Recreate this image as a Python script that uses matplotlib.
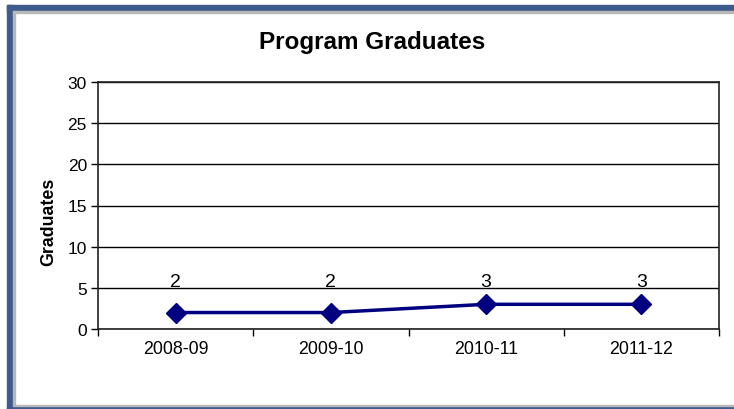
import matplotlib.pyplot as plt
from matplotlib.patches import Rectangle

plt.rcParams['font.family'] = ['Liberation Sans', 'DejaVu Sans']

years = ['2008-09', '2009-10', '2010-11', '2011-12']
graduates = [2, 2, 3, 3]
y_ticks = [0, 5, 10, 15, 20, 25, 30]

W, H = 734, 410
fig = plt.figure(figsize=(W / 100, H / 100), dpi=100)
fig.patch.set_facecolor('white')

# blue frame (left, top, bottom) with a thin grey inner edge
blue = '#3F5A8C'
grey = '#B8B8B8'
def px_rect(x0, y0, w, h, color):
    fig.patches.append(Rectangle((x0 / W, 1 - (y0 + h) / H), w / W, h / H,
                                 transform=fig.transFigure, color=color, zorder=0))
px_rect(7, 6, W - 7, 6, blue)
px_rect(7, 6, 6, H - 6, blue)
px_rect(7, 407.5, W - 7, 3, blue)
px_rect(13, 12, 1.8, 394, grey)
px_rect(13, 12, W - 13, 1.8, grey)
px_rect(13, 405.5, W - 13, 1.5, grey)

# plot area in pixels: left 98, right 719, top 83, bottom 330
ax = fig.add_axes([98 / W, 1 - 330 / H, (719 - 98) / W, (330 - 83) / H])
x = list(range(len(years)))
ax.plot(x, graduates, color='#000080', lw=2.5, marker='D', markersize=10,
        zorder=3, clip_on=False)
# value labels sit in a row just above the 5 gridline
for xi, v in zip(x, graduates):
    ax.annotate(str(v), (xi, v), xytext=(xi, 5.2), textcoords='data',
                ha='center', va='baseline', fontsize=14)

ax.set_xlim(-0.5, len(years) - 0.5)
ax.set_ylim(0, 30)
ax.set_yticks(y_ticks)
ax.set_xticks(x)
ax.set_xticklabels(years)
ax.set_xticks([i - 0.5 for i in range(len(years) + 1)], minor=True)
ax.tick_params(axis='x', which='major', length=0, pad=8, labelsize=12.8)
ax.tick_params(axis='x', which='minor', length=5, width=1, direction='out')
ax.tick_params(axis='y', length=5, width=1, direction='out', labelsize=12.5, pad=3)
ax.yaxis.grid(True, color='black', lw=1)
ax.set_axisbelow(True)
for s in ax.spines.values():
    s.set_linewidth(1.2)
    s.set_color('#222222')

ax.set_ylabel('Graduates', fontsize=12.8, fontweight='bold')
ax.yaxis.set_label_coords((57 - 98) / (719 - 98), (330 - 222) / (330 - 83))
fig.text(372 / W, 1 - 43 / H, 'Program Graduates', ha='center', va='center',
         fontsize=17.5, fontweight='bold')

fig.savefig('out.png', dpi=100)
